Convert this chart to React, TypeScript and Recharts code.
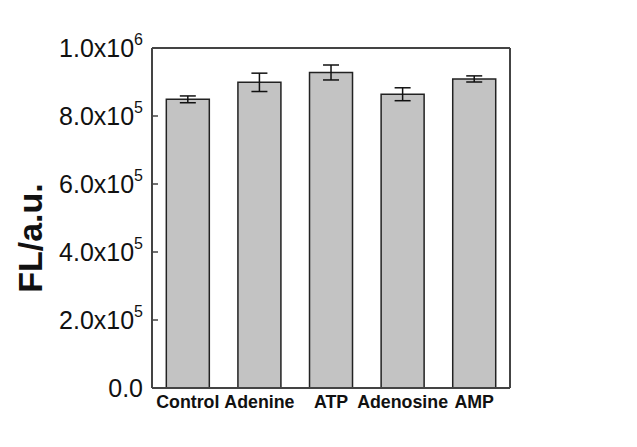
import React from 'react';
import { BarChart, Bar, XAxis, YAxis, ErrorBar, ReferenceLine } from 'recharts';

// Fluorescence intensity for each treatment group
const categories = ['Control', 'Adenine', 'ATP', 'Adenosine', 'AMP'];
const meanValues = [849000, 899000, 928000, 864000, 909000];
const errorValues = [10000, 27000, 22000, 19000, 9000];
const yTicks = [0, 200000, 400000, 600000, 800000, 1000000];

const data = categories.map((name, i) => ({
  name,
  value: meanValues[i],
  err: errorValues[i],
}));

const FONT = '"Liberation Sans", Arial, sans-serif';
const AXIS_COLOR = '#444';

// Scientific-notation label, e.g. 8.0x10^5; zero is written as 0.0
const YTick = (props: any) => {
  const { x, y, payload } = props;
  const v: number = payload.value;
  let main = '0.0';
  let exp: string | null = null;
  if (v !== 0) {
    const e = Math.floor(Math.log10(v));
    main = (v / Math.pow(10, e)).toFixed(1) + 'x10';
    exp = String(e);
  }
  return (
    <g>
      <line x1={x} x2={x + 6} y1={y} y2={y} stroke={AXIS_COLOR} strokeWidth={1.5} />
      <text
        x={x - 9}
        y={y + 9}
        textAnchor="end"
        fontFamily={FONT}
        fontSize={25}
        fill="#111"
      >
        {main}
        {exp !== null && (
          <tspan dy={-12} fontSize={16}>
            {exp}
          </tspan>
        )}
      </text>
    </g>
  );
};

const XTick = (props: any) => {
  const { x, y, payload } = props;
  return (
    <text
      x={x}
      y={y + 20}
      textAnchor="middle"
      fontFamily={FONT}
      fontSize={17.8}
      fontWeight="bold"
      fill="#111"
    >
      {payload.value}
    </text>
  );
};

const YLabel = (props: any) => {
  const { viewBox } = props;
  const cx = viewBox.x + 30;
  const cy = viewBox.y + viewBox.height / 2 + 20;
  return (
    <text
      x={cx}
      y={cy}
      transform={`rotate(-90, ${cx}, ${cy})`}
      textAnchor="middle"
      dominantBaseline="central"
      fontFamily={FONT}
      fontSize={34}
      fontWeight="bold"
      fill="#111"
    >
      FL/a.u.
    </text>
  );
};

export default function App() {
  return (
    <div style={{ position: 'absolute', left: 0, top: 0, width: 637, height: 447, background: '#fff' }}>
      <BarChart
        width={637}
        height={447}
        data={data}
        margin={{ top: 47, right: 126, bottom: 19, left: 0 }}
        barCategoryGap="20%"
      >
        <XAxis
          dataKey="name"
          height={40}
          tick={<XTick />}
          tickLine={false}
          tickSize={0}
          tickMargin={0}
          axisLine={{ stroke: AXIS_COLOR, strokeWidth: 2 }}
          interval={0}
        />
        <XAxis
          xAxisId="top"
          dataKey="name"
          orientation="top"
          height={1}
          tick={false}
          tickLine={false}
          axisLine={{ stroke: AXIS_COLOR, strokeWidth: 2 }}
        />
        <YAxis
          width={152}
          domain={[0, 1000000]}
          ticks={yTicks}
          interval={0}
          tick={<YTick />}
          tickLine={false}
          tickSize={0}
          tickMargin={0}
          axisLine={{ stroke: AXIS_COLOR, strokeWidth: 2 }}
          label={<YLabel />}
        />
        <YAxis
          yAxisId="right"
          orientation="right"
          width={1}
          domain={[0, 1000000]}
          tick={false}
          tickLine={false}
          axisLine={{ stroke: AXIS_COLOR, strokeWidth: 2 }}
        />
        <ReferenceLine y={1000000} stroke={AXIS_COLOR} strokeWidth={2} />
        <Bar
          dataKey="value"
          fill="#c3c3c3"
          stroke="#222"
          strokeWidth={1.5}
          isAnimationActive={false}
        >
          <ErrorBar dataKey="err" width={8} stroke="#111" strokeWidth={1.5} direction="y" />
        </Bar>
      </BarChart>
    </div>
  );
}
